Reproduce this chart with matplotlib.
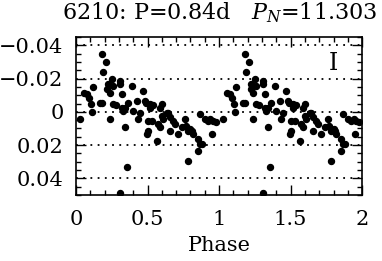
import matplotlib
matplotlib.use('Agg')
import matplotlib.pyplot as plt
import numpy as np
from matplotlib.ticker import MultipleLocator, FuncFormatter

plt.rcParams['font.family'] = 'DejaVu Serif'
plt.rcParams['mathtext.fontset'] = 'dejavuserif'

# phase (0..1) and magnitude
phase = [0.028, 0.054, 0.075, 0.093, 0.103, 0.11, 0.12, 0.168, 0.18, 0.184,
         0.19, 0.21, 0.22, 0.226, 0.238, 0.238, 0.25, 0.26, 0.26, 0.28,
         0.308, 0.308, 0.31, 0.32, 0.32, 0.33, 0.34, 0.343, 0.354, 0.366,
         0.39, 0.40, 0.424, 0.436, 0.447, 0.47, 0.48, 0.49, 0.494, 0.50,
         0.50, 0.517, 0.52, 0.53, 0.54, 0.564, 0.57, 0.587, 0.587, 0.60,
         0.60, 0.61, 0.634, 0.645, 0.657, 0.657, 0.68, 0.69, 0.715, 0.74,
         0.762, 0.77, 0.78, 0.785, 0.80, 0.81, 0.82, 0.855, 0.855, 0.867,
         0.867, 0.88, 0.90, 0.92, 0.94, 0.95, 0.96, 0.98]
mag = [0.0044, -0.0115, -0.0106, -0.0085, -0.0046, 0.0, -0.015, -0.0056, -0.0056, -0.0348,
       -0.024, -0.030, -0.014, -0.0165, -0.0115, 0.0044, -0.0195, -0.0155, -0.0046, -0.004,
       -0.0185, 0.0488, -0.017, -0.0106, -0.0026, -0.0006, -0.0026, 0.0094, 0.0333, -0.0056,
       -0.0155, -0.0006, -0.0066, 0.0044, 0.0006, -0.0125, -0.0066, -0.0056, 0.0133, 0.0054,
       0.0113, -0.0026, -0.0046, 0.0054, -0.004, 0.0173, 0.0074, -0.0026, 0.0094, -0.0046,
       0.0024, 0.0044, 0.0004, 0.0004, 0.003, 0.0113, 0.0054, 0.0074, 0.0133, 0.0094,
       0.0044, 0.0084, 0.0113, 0.0293, 0.0103, 0.0113, 0.0133, 0.0163, 0.0233, 0.0014,
       0.0193, 0.0193, 0.0044, 0.0054, 0.0044, 0.0133, 0.0054, 0.0064]

ph = np.array(phase)
mg = np.array(mag)
x = np.concatenate([ph, ph + 1])
y = np.concatenate([mg, mg])

fig = plt.figure(figsize=(3.82, 2.61), dpi=100)
ax = fig.add_axes([0.199, 0.253, 0.749, 0.605])

for g in [-0.04, -0.02, 0, 0.02, 0.04]:
    ax.axhline(g, color='black', lw=1.3, ls=(0, (1, 3)), zorder=1)

ax.plot(x, y, 'o', color='black', ms=4.3, zorder=2)

ax.set_xlim(0, 2)
ax.set_ylim(0.05, -0.045)
ax.xaxis.set_major_locator(MultipleLocator(0.5))
ax.xaxis.set_minor_locator(MultipleLocator(0.1))
ax.yaxis.set_major_locator(MultipleLocator(0.02))
ax.yaxis.set_minor_locator(MultipleLocator(0.005))
ax.xaxis.set_major_formatter(FuncFormatter(lambda v, p: '%g' % v))
ax.yaxis.set_major_formatter(
    FuncFormatter(lambda v, p: '0' if abs(v) < 1e-9 else ('%.2f' % v).replace('-', '\u2212')))
ax.tick_params(which='both', direction='in', top=True, right=True, labelsize=15, width=1)
ax.tick_params(which='major', length=7)
ax.tick_params(which='minor', length=3.5)
ax.tick_params(axis='x', pad=11)
ax.tick_params(axis='y', pad=9)
for s in ax.spines.values():
    s.set_linewidth(1.2)

ax.set_xlabel('Phase', fontsize=15, labelpad=5)
ax.text(0.9, 0.83, 'I', transform=ax.transAxes, fontsize=17, ha='center', va='center')
fig.text(0.575, 0.952, '6210: P=0.84d   $P_N$=11.303', fontsize=16, ha='center', va='center')

fig.savefig('out.png', dpi=100)
